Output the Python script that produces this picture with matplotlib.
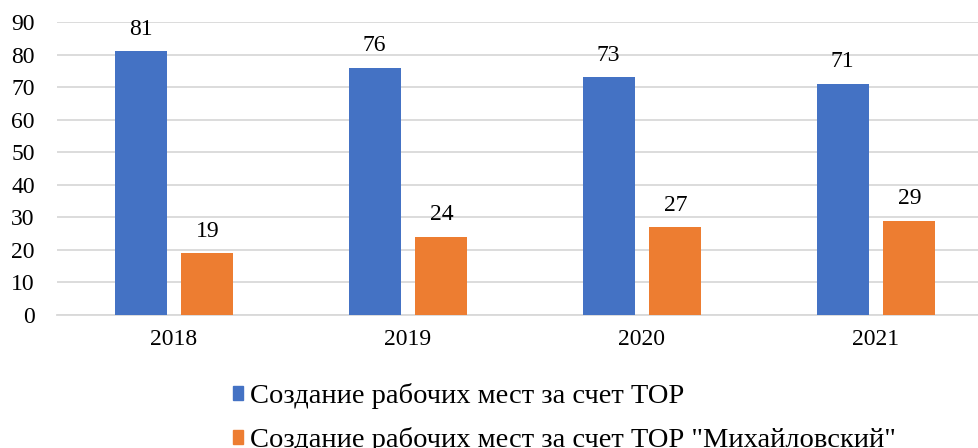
import matplotlib.pyplot as plt
import numpy as np
from matplotlib.patches import Patch

years = ["2018", "2019", "2020", "2021"]
tor_total = [81, 76, 73, 71]
tor_mikh = [19, 24, 27, 29]
labels = ["Создание рабочих мест за счет ТОР",
          'Создание рабочих мест за счет ТОР "Михайловский"']

plt.rcParams['font.family'] = ['Liberation Serif', 'DejaVu Serif']

fig = plt.figure(figsize=(9.79, 4.48), dpi=100)
ax = fig.add_axes([57 / 979, 1 - 315 / 448, 936 / 979, 293 / 448])

x = np.arange(len(years))
w = 0.222
b1 = ax.bar(x - 0.143, tor_total, w, color="#4472C4", zorder=3)
b2 = ax.bar(x + 0.143, tor_mikh, w, color="#ED7D31", zorder=3)

for bars in (b1, b2):
    for r in bars:
        ax.text(r.get_x() + r.get_width() / 2, r.get_height() + 3.5,
                str(int(r.get_height())), ha="center", va="bottom", fontsize=17)

ax.set_xlim(-0.5, 3.5)
ax.set_ylim(0, 90)
ax.set_yticks(range(0, 91, 10))
ax.set_xticks(x)
ax.set_xticklabels(years)
ax.tick_params(axis="both", length=0, labelsize=17)
ax.tick_params(axis="x", pad=10)
ax.tick_params(axis="y", pad=16)
ax.yaxis.grid(True, color="#D9D9D9", linewidth=1.3, zorder=0)
for s in ["top", "right", "left"]:
    ax.spines[s].set_visible(False)
ax.spines["bottom"].set_color("#D9D9D9")
ax.spines["bottom"].set_linewidth(1.3)

# legend entries stacked, one per row
handles = [Patch(color="#4472C4"), Patch(color="#ED7D31")]
fig.legend(handles, labels, loc="upper left", bbox_to_anchor=(219 / 979, 1 - 369 / 448),
           frameon=False, fontsize=20.5, ncol=1, handlelength=0.36, handleheight=0.36,
           handletextpad=0.22, labelspacing=0.62, borderpad=0)

fig.savefig("out.png", dpi=100)
